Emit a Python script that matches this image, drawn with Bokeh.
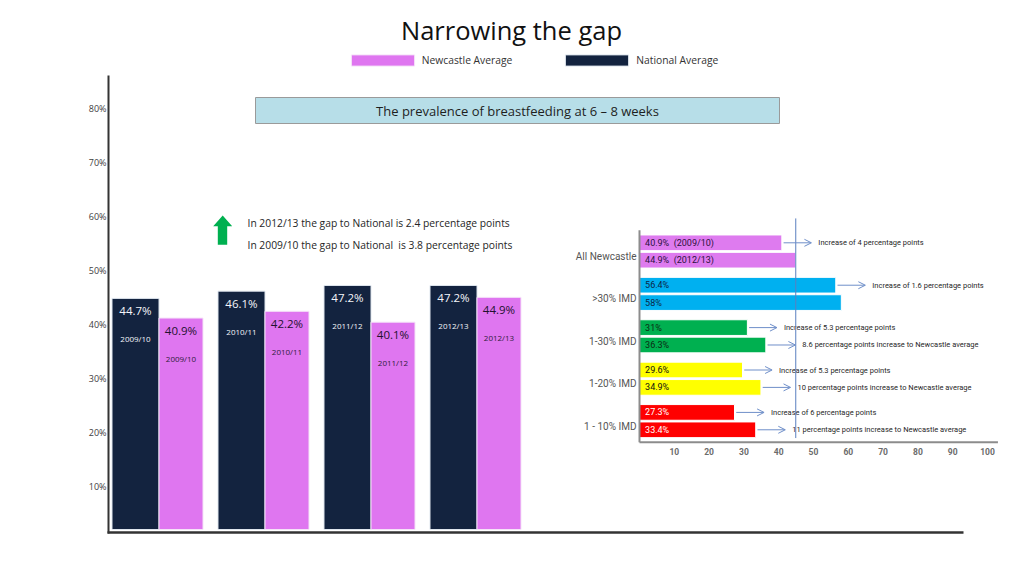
from bokeh.plotting import figure
from bokeh.models import (Range1d, LinearAxis, FixedTicker, PrintfTickFormatter, Legend,
                          LegendItem, ColumnDataSource, CoordinateMapping, Arrow, OpenHead)
from bokeh.core.properties import value
from bokeh.embed import file_html
from bokeh.resources import INLINE

# ---------------- data ----------------
YEARS = ["2009/10", "2010/11", "2011/12", "2012/13"]
NATIONAL = [44.7, 46.1, 47.2, 47.2]
NEWCASTLE = [40.9, 42.2, 40.1, 44.9]
Y_TICKS = [10, 20, 30, 40, 50, 60, 70, 80]

IMD_CATS = ["All Newcastle", ">30% IMD", "1-30% IMD", "1-20% IMD", "1 - 10% IMD"]
IMD_FIRST = [40.9, 56.4, 31.0, 29.6, 27.3]
IMD_SECOND = [44.9, 58.0, 36.3, 34.9, 33.4]
IMD_FIRST_LABELS = ["40.9%\u00a0 (2009/10)", "56.4%", "31%", "29.6%", "27.3%"]
IMD_SECOND_LABELS = ["44.9%\u00a0 (2012/13)", "58%", "36.3%", "34.9%", "33.4%"]
IMD_FIRST_NOTES = ["Increase of 4 percentage points", "Increase of 1.6 percentage points",
                   "Increase of 5.3 percentage points", "Increase of 5.3 percentage points",
                   "Increase of 6 percentage points"]
IMD_SECOND_NOTES = ["", "", "8.6 percentage points increase to Newcastle average",
                    "10 percentage points increase to Newcastle average",
                    "11 percentage points increase to Newcastle average"]
IMD_TICKS = [10, 20, 30, 40, 50, 60, 70, 80, 90, 100]

TITLE = "Narrowing the gap"
SUBTITLE = "The prevalence of breastfeeding at 6 \u2013 8 weeks"
NOTE_1 = "In 2012/13 the gap to National is 2.4 percentage points"
NOTE_2 = "In 2009/10 the gap to National\u00a0 is 3.8 percentage points"

# ---------------- layout helpers (page pixels -> data) ----------------
W, H = 1008, 560
ORG = 0
FRAME_LEFT = 106
FONT = value("Open Sans")
NFONT = value("Roboto")


def X(px):
    return (px - 158.5) / 106.0


def Y(py):
    return (529.0 - py) / 5.17


def IX(v):
    return X(639 + v * 3.48)


def IY(r):
    return Y(251 - r * 42.4)


p = figure(width=W, height=H, output_backend="svg", toolbar_location=None,
           x_range=Range1d(X(FRAME_LEFT), X(ORG + W)),
           y_range=Range1d(Y(ORG + H), Y(ORG)),
           x_axis_location=None, y_axis_location=None, title=None,
           min_border_left=FRAME_LEFT - ORG, min_border_right=0,
           min_border_top=0, min_border_bottom=0,
           outline_line_color=None, background_fill_color="white",
           border_fill_color="white")
p.grid.visible = False

p.extra_y_ranges = {"ticks": Range1d((540 - (ORG + H)) / 5.4, (540 - ORG) / 5.4)}
yaxis = LinearAxis(y_range_name="ticks", ticker=FixedTicker(ticks=Y_TICKS),
                   formatter=PrintfTickFormatter(format="%d%%"),
                   axis_line_color=None, major_tick_line_color=None,
                   minor_tick_line_color=None, major_label_standoff=0,
                   major_tick_out=0, major_tick_in=0,
                   major_label_text_font="Open Sans",
                   major_label_text_font_size="9px",
                   major_label_text_color="#404040")
p.add_layout(yaxis, "left")

# ---------------- main bars ----------------
NAVY_W = 47 / 106.0
PINK_W = 44 / 106.0
idx = list(range(len(YEARS)))
src = ColumnDataSource(dict(
    xn=[i - NAVY_W / 2 for i in idx],
    xp=[i + PINK_W / 2 for i in idx],
    nat=NATIONAL, new=NEWCASTLE, yr=YEARS,
    nat_lbl=[f"{v:.1f}%" for v in NATIONAL],
    new_lbl=[f"{v:.1f}%" for v in NEWCASTLE],
    nat_ly=[v - 12 / 5.17 for v in NATIONAL],
    nat_yy=[v - 40 / 5.17 for v in NATIONAL],
    new_ly=[v - 12 / 5.17 for v in NEWCASTLE],
    new_yy=[v - 40 / 5.17 for v in NEWCASTLE],
))

navy = p.vbar(x="xn", width=NAVY_W, top="nat", bottom=0, source=src,
              fill_color="#13233F", line_color="#dfe6ee", line_width=1)
pink = p.vbar(x="xp", width=PINK_W, top="new", bottom=0, source=src,
              fill_color="#DF76F0", line_color="#f5e3f8", line_width=1)

p.text(x="xn", y="nat_ly", text="nat_lbl", source=src, text_color="#f4f6fa",
       text_font=FONT, text_font_size="11.5px", text_align="center", text_baseline="middle")
p.text(x="xn", y="nat_yy", text="yr", source=src, text_color="#f4f6fa",
       text_font=FONT, text_font_size="8px", text_align="center", text_baseline="middle")
p.text(x="xp", y="new_ly", text="new_lbl", source=src, text_color="#23112f",
       text_font=FONT, text_font_size="11.5px", text_align="center", text_baseline="middle")
p.text(x="xp", y="new_yy", text="yr", source=src, text_color="#2e1d3a",
       text_font=FONT, text_font_size="8px", text_align="center", text_baseline="middle")

# axis lines of the slide chart
p.segment(x0=[X(108)], y0=[Y(75)], x1=[X(108)], y1=[Y(533)], line_color="#333333", line_width=2)
p.segment(x0=[X(107)], y0=[Y(532)], x1=[X(963)], y1=[Y(532)], line_color="#333333", line_width=2.5)

# title, subtitle box, notes
p.text(x=[X(511)], y=[Y(29)], text=[TITLE], text_font=FONT, text_font_size="25.5px",
       text_color="#111111", text_align="center", text_baseline="middle")
p.quad(left=[X(255)], right=[X(779)], top=[Y(97)], bottom=[Y(123)],
       fill_color="#B7DEE8", line_color="#9a9a9a", line_width=1)
p.text(x=[X(517)], y=[Y(110)], text=[SUBTITLE], text_font=FONT, text_font_size="13px",
       text_color="#1e1e1e", text_align="center", text_baseline="middle")

ax = [222.2, 231.7, 226.7, 226.7, 217.3, 217.3, 212.7]
ay = [215, 225.7, 225.7, 244.3, 244.3, 225.7, 225.7]
p.patch([X(v) for v in ax], [Y(v) for v in ay], fill_color="#00B050", line_color=None)
p.text(x=[X(247), X(247)], y=[Y(222.3), Y(244.3)], text=[NOTE_1, NOTE_2], text_font=FONT,
       text_font_size="10.3px", text_color="#262626", text_align="left", text_baseline="middle")

legend = Legend(items=[LegendItem(label="Newcastle Average", renderers=[pink]),
                       LegendItem(label="National Average", renderers=[navy])],
                orientation="horizontal", location=(342.8 - FRAME_LEFT, H - 67),
                padding=0, margin=0, spacing=45, label_standoff=0,
                glyph_width=79, glyph_height=14, label_height=14,
                border_line_color=None, background_fill_alpha=0,
                label_text_font="Open Sans", label_text_font_size="10.3px",
                label_text_color="#333333")
p.add_layout(legend)

# ---------------- inset: IMD chart ----------------
cm = CoordinateMapping(x_source=Range1d(0, 100), y_source=Range1d(-4.5, 0.5),
                       x_target=Range1d(IX(0), IX(100)),
                       y_target=Range1d(IY(-4.5), IY(0.5)))

OFF = 0.205
BH = 0.37
IMD_COLORS = ["#DE7BEF", "#00B0F0", "#00B050", "#FFFF00", "#FF0000"]
IMD_TCOLORS = ["#2b1140", "#0b2545", "#0b2a12", "#111111", "#ffffff"]
gi = list(range(len(IMD_CATS)))
isrc = ColumnDataSource(dict(
    y1=[-i + OFF for i in gi], y2=[-i - OFF for i in gi],
    v1=IMD_FIRST, v2=IMD_SECOND, color=IMD_COLORS, tcolor=IMD_TCOLORS,
    l1=IMD_FIRST_LABELS, l2=IMD_SECOND_LABELS, cat=IMD_CATS,
    cy=[-i - 0.12 for i in gi],
    n1x=[v + 10.5 for v in IMD_FIRST], n2x=[v + 10.5 for v in IMD_SECOND],
    n1=IMD_FIRST_NOTES, n2=IMD_SECOND_NOTES,
))

rends = []
rends.append(p.hbar(y="y1", left=0, right="v1", height=BH, source=isrc,
                    fill_color="color", line_color="white", line_width=1))
rends.append(p.hbar(y="y2", left=0, right="v2", height=BH, source=isrc,
                    fill_color="color", line_color="white", line_width=1))
rends.append(p.text(x=1.6, y="y1", text="l1", source=isrc, text_color="tcolor",
                    text_font=NFONT, text_font_size="9px", text_align="left",
                    text_baseline="middle"))
rends.append(p.text(x=1.6, y="y2", text="l2", source=isrc, text_color="tcolor",
                    text_font=NFONT, text_font_size="9px", text_align="left",
                    text_baseline="middle"))
rends.append(p.text(x=0, y="cy", text="cat", source=isrc, x_offset=-3, text_color="#555555",
                    text_font=NFONT, text_font_size="10px", text_align="right",
                    text_baseline="middle"))
rends.append(p.text(x="n1x", y="y1", text="n1", source=isrc, text_color="#1f1f1f",
                    text_font=NFONT, text_font_size="7.5px", text_align="left",
                    text_baseline="middle"))
rends.append(p.text(x="n2x", y="y2", text="n2", source=isrc, text_color="#1f1f1f",
                    text_font=NFONT, text_font_size="7.5px", text_align="left",
                    text_baseline="middle"))
rends.append(p.text(x=IMD_TICKS, y=[-4.72] * len(IMD_TICKS), text=[str(t) for t in IMD_TICKS],
                    text_color="#6b6b6b", text_font=NFONT, text_font_size="8.5px",
                    text_font_style="bold", text_align="center", text_baseline="middle"))
rends.append(p.segment(x0=[0], y0=[0.5], x1=[0], y1=[-4.5], line_color="#8c8c8c", line_width=2))
rends.append(p.segment(x0=[0], y0=[-4.5], x1=[103], y1=[-4.5], line_color="#8c8c8c", line_width=2))
rends.append(p.segment(x0=[IMD_SECOND[0]], y0=[0.78], x1=[IMD_SECOND[0]], y1=[-4.40],
                       line_color="#5a7fbf", line_width=1))
for r in rends:
    r.coordinates = cm

ARROW_C = "#6f8fc9"
for i in gi:
    rows = [(IMD_FIRST[i], -i + OFF)]
    if IMD_SECOND_NOTES[i]:
        rows.append((IMD_SECOND[i], -i - OFF))
    for v, yy in rows:
        p.add_layout(Arrow(x_start=IX(v + 0.5), y_start=IY(yy), x_end=IX(v + 8.5), y_end=IY(yy),
                           line_color=ARROW_C, line_width=1,
                           end=OpenHead(size=7, line_color=ARROW_C, line_width=1)))

open("out.html", "w").write(file_html(p, INLINE))
